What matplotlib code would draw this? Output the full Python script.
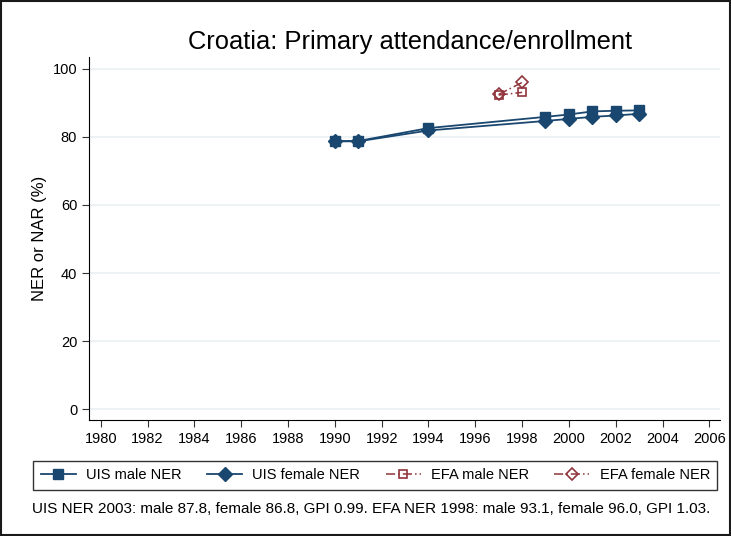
import matplotlib.pyplot as plt
from matplotlib.lines import Line2D

plt.rcParams['font.family'] = ['Liberation Sans', 'DejaVu Sans']

# UIS net enrollment
uis_years = [1990, 1991, 1994, 1999, 2000, 2001, 2002, 2003]
uis_male = [78.8, 78.8, 82.6, 85.9, 86.6, 87.5, 87.7, 87.8]
uis_female = [78.7, 78.7, 81.9, 84.7, 85.3, 85.9, 86.3, 86.8]

# EFA net enrollment
efa_years = [1997, 1998]
efa_male = [92.3, 93.1]
efa_female = [92.5, 96.0]

xticks = list(range(1980, 2008, 2))
yticks = [0, 20, 40, 60, 80, 100]

blue = '#1a476f'
red = '#90353b'

fig = plt.figure(figsize=(7.31, 5.36), dpi=100)
ax = fig.add_axes([0.1218, 0.2164, 0.863, 0.6773])

ax.plot(uis_years, uis_male, color=blue, lw=1.3, marker='s', ms=7, zorder=3)
ax.plot(uis_years, uis_female, color=blue, lw=1.3, marker='D', ms=7, zorder=3)
ax.plot(efa_years, efa_male, color=red, lw=1.1, ls=(0, (6, 2, 1, 2)), marker='s',
        ms=6, mfc='none', mec=red, mew=1.2, zorder=3)
ax.plot(efa_years, efa_female, color=red, lw=1.1, ls=(0, (6, 2, 1, 2)), marker='D',
        ms=6, mfc='none', mec=red, mew=1.2, zorder=3)

ax.set_xlim(1979.5, 2006.45)
ax.set_ylim(-3.2, 103.5)
ax.set_xticks(xticks)
ax.set_yticks(yticks)
ax.tick_params(labelsize=10.5, length=5, color='#333333')
ax.grid(axis='y', color='#eaf0f3', lw=1.2)
ax.set_axisbelow(True)
for s in ['top', 'right']:
    ax.spines[s].set_visible(False)
ax.set_ylabel('NER or NAR (%)', fontsize=12)

fig.text(0.561, 0.922, 'Croatia: Primary attendance/enrollment', fontsize=18.4,
         ha='center', va='center')

handles = [
    Line2D([], [], color=blue, lw=1.3, marker='s', ms=7),
    Line2D([], [], color=blue, lw=1.3, marker='D', ms=7),
    Line2D([], [], color=red, lw=1.1, ls=(0, (6, 2, 1, 2)), marker='s', ms=6, mfc='none', mew=1.2),
    Line2D([], [], color=red, lw=1.1, ls=(0, (6, 2, 1, 2)), marker='D', ms=6, mfc='none', mew=1.2),
]
labels = ['UIS male NER', 'UIS female NER', 'EFA male NER', 'EFA female NER']
leg = fig.legend(handles, labels, loc='center', bbox_to_anchor=(0.5135, 0.1129), ncol=4,
                 fontsize=10.5, frameon=True, fancybox=False, edgecolor='black',
                 handlelength=2.4, columnspacing=1.75, borderpad=0.5, handletextpad=0.7)
leg.get_frame().set_linewidth(1.0)

fig.text(0.044, 0.05, 'UIS NER 2003: male 87.8, female 86.8, GPI 0.99. EFA NER 1998: male 93.1, female 96.0, GPI 1.03.',
         fontsize=11, va='center', ha='left')

fig.patches.append(plt.Rectangle((0.001, 0.001), 0.998, 0.998, transform=fig.transFigure,
                                 fill=False, edgecolor='#1a1a1a', lw=1.5))

fig.savefig('out.png', dpi=100)
